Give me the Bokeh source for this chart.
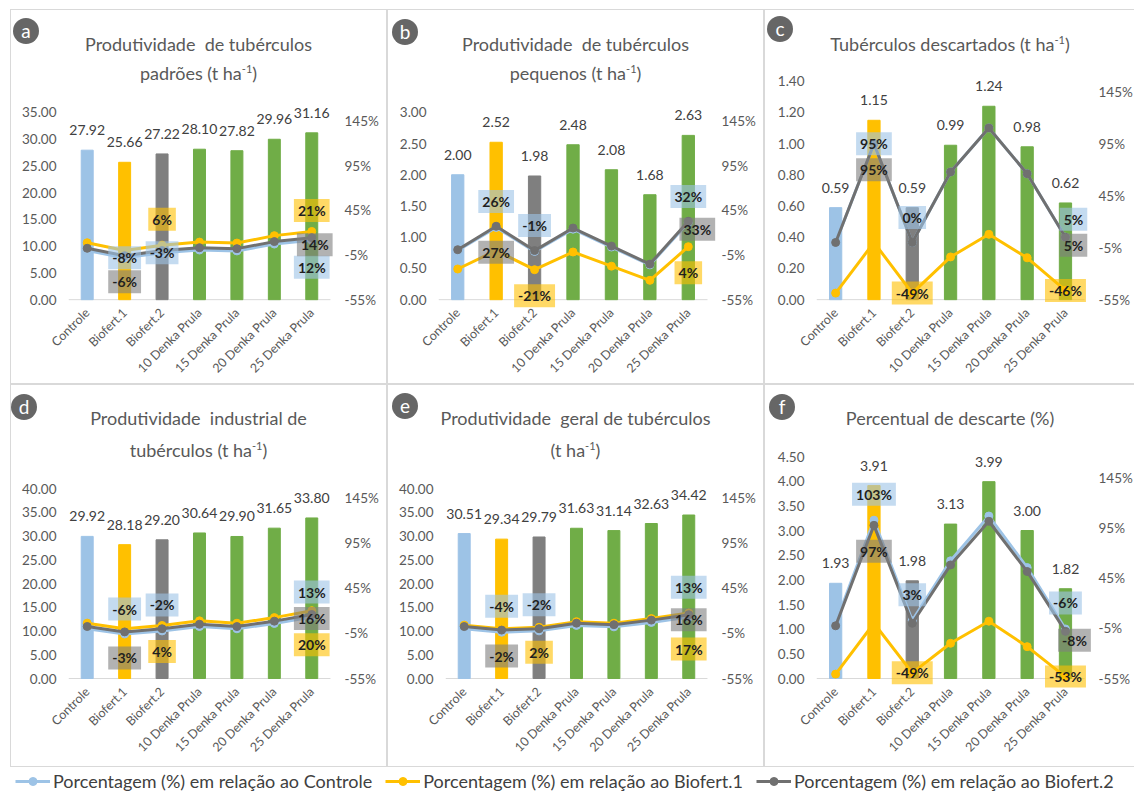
import math
from bokeh.plotting import figure
from bokeh.models import (Range1d, LinearAxis, FixedTicker, NumeralTickFormatter, Div,
                          PrintfTickFormatter, ColumnDataSource, Label, LabelSet, Legend, LegendItem)
from bokeh.layouts import column, row
from bokeh.embed import file_html
from bokeh.resources import INLINE
from bokeh.core.properties import value

# ---------------- data ----------------
CATEGORIES = ["Controle", "Biofert.1", "Biofert.2", "10 Denka Prula",
              "15 Denka Prula", "20 Denka Prula", "25 Denka Prula"]
BAR_COLORS = ["#9DC3E6", "#FFC000", "#7F7F7F", "#70AD47", "#70AD47", "#70AD47", "#70AD47"]
SERIES_NAMES = ["Porcentagem (%) em relação ao Controle",
                "Porcentagem (%) em relação ao Biofert.1",
                "Porcentagem (%) em relação ao Biofert.2"]
SERIES_COLORS = ["#9DC3E6", "#FFC000", "#707070"]
PCT_TICKS = [-55, -5, 45, 95, 145]

A_VALUES = [27.92, 25.66, 27.22, 28.10, 27.82, 29.96, 31.16]
A_PCT_CONTROLE = [0.0, -8.10, -2.51, 0.64, -0.36, 7.31, 11.60]
A_PCT_BIOFERT1 = [8.81, 0.0, 6.08, 9.51, 8.42, 16.76, 21.43]
A_PCT_BIOFERT2 = [2.57, -5.73, 0.0, 3.23, 2.20, 10.07, 14.48]
A_TICKS = [0, 5, 10, 15, 20, 25, 30, 35]

B_VALUES = [2.00, 2.52, 1.98, 2.48, 2.08, 1.68, 2.63]
B_PCT_CONTROLE = [0.0, 26.0, -1.0, 24.0, 4.0, -16.0, 31.5]
B_PCT_BIOFERT1 = [-20.63, 0.0, -21.43, -1.59, -17.46, -33.33, 4.37]
B_PCT_BIOFERT2 = [1.01, 27.27, 0.0, 25.25, 5.05, -15.15, 32.83]
B_TICKS = [0, 0.5, 1.0, 1.5, 2.0, 2.5, 3.0]

C_VALUES = [0.59, 1.15, 0.59, 0.99, 1.24, 0.98, 0.62]
C_PCT_CONTROLE = [0.0, 94.92, 0.0, 67.80, 110.17, 66.10, 5.08]
C_PCT_BIOFERT1 = [-48.70, 0.0, -48.70, -13.91, 7.83, -14.78, -46.09]
C_PCT_BIOFERT2 = [0.0, 94.92, 0.0, 67.80, 110.17, 66.10, 5.08]
C_TICKS = [0, 0.2, 0.4, 0.6, 0.8, 1.0, 1.2, 1.4]

D_VALUES = [29.92, 28.18, 29.20, 30.64, 29.90, 31.65, 33.80]
D_PCT_CONTROLE = [0.0, -5.82, -2.41, 2.41, -0.07, 5.78, 12.97]
D_PCT_BIOFERT1 = [6.17, 0.0, 3.62, 8.73, 6.10, 12.31, 19.94]
D_PCT_BIOFERT2 = [2.47, -3.49, 0.0, 4.93, 2.40, 8.39, 15.75]
D_TICKS = [0, 5, 10, 15, 20, 25, 30, 35, 40]

E_VALUES = [30.51, 29.34, 29.79, 31.63, 31.14, 32.63, 34.42]
E_PCT_CONTROLE = [0.0, -3.83, -2.36, 3.67, 2.06, 6.95, 12.82]
E_PCT_BIOFERT1 = [3.99, 0.0, 1.53, 7.81, 6.13, 11.21, 17.31]
E_PCT_BIOFERT2 = [2.42, -1.51, 0.0, 6.18, 4.53, 9.53, 15.54]
E_TICKS = [0, 5, 10, 15, 20, 25, 30, 35, 40]

F_VALUES = [1.93, 3.91, 1.98, 3.13, 3.99, 3.00, 1.82]
F_PCT_CONTROLE = [0.0, 102.59, 2.59, 62.18, 106.74, 55.44, -5.70]
F_PCT_BIOFERT1 = [-50.64, 0.0, -49.36, -19.95, 2.05, -23.27, -53.45]
F_PCT_BIOFERT2 = [-2.53, 97.47, 0.0, 58.08, 101.52, 51.52, -8.08]
F_TICKS = [0, 0.5, 1.0, 1.5, 2.0, 2.5, 3.0, 3.5, 4.0, 4.5]

# ---------------- layout / style ----------------
FONT = "Lato"
BOX_COLORS = ["#9DC3E6", "#FFC000", "#7F7F7F"]
SUP = "t ha<sup style='font-size:11px;line-height:0'>-1</sup>"

# which points carry a % label: (series index, category index, dx px, dy px)
LABELS_A = [(0, 1, 0, 0), (0, 2, 0, 0), (0, 6, 0, -27), (1, 2, 0, 26), (1, 6, 0, 21), (2, 1, 0, -26), (2, 6, 3, -7)]
LABELS_B = [(0, 1, 0, 26), (0, 2, 0, 26), (0, 6, 0, 26), (1, 2, 0, -26), (1, 6, 0, -26), (2, 1, 0, -26), (2, 6, 9, -8)]
LABELS_C = [(0, 1, 0, 0), (0, 2, 0, 25), (0, 6, 8, 18), (1, 2, 0, 0), (1, 6, 0, 0), (2, 1, 0, -26), (2, 6, 8, -8)]
LABELS_D = [(0, 1, 0, 25), (0, 2, 0, 26), (0, 6, 0, 25), (1, 2, 0, -26), (1, 6, 0, -34), (2, 1, 0, -26), (2, 6, 0, -4)]
LABELS_E = [(0, 1, 0, 26), (0, 2, 0, 26), (0, 6, 0, 30), (1, 2, 0, -25), (1, 6, 0, -36), (2, 1, 0, -26), (2, 6, 0, -5)]
LABELS_F = [(0, 1, 0, 26), (0, 2, 0, 26), (0, 6, 0, 26), (1, 2, 0, 0), (1, 6, 0, 0), (2, 1, 0, -26), (2, 6, 9, -9)]

# geometry (pixels inside each panel): first/last bar centre x, top tick y, zero y
PANELS = [
    dict(letter="a", titles=["Produtividade&nbsp; de tubérculos", f"padrões ({SUP})"],
         values=A_VALUES, pcts=[A_PCT_CONTROLE, A_PCT_BIOFERT1, A_PCT_BIOFERT2], ticks=A_TICKS,
         pmax=155, labels=LABELS_A, w=375, h=373, xf=76, xl=300, y1=102, y0=293,
         title_y=[34, 63], badge=(15, 21)),
    dict(letter="b", titles=["Produtividade&nbsp; de tubérculos", f"pequenos ({SUP})"],
         values=B_VALUES, pcts=[B_PCT_CONTROLE, B_PCT_BIOFERT1, B_PCT_BIOFERT2], ticks=B_TICKS,
         pmax=155, labels=LABELS_B, w=375, h=373, xf=69, xl=300, y1=102, y0=293,
         title_y=[34, 63], badge=(17, 22)),
    dict(letter="c", titles=[f"Tubérculos descartados ({SUP})"],
         values=C_VALUES, pcts=[C_PCT_CONTROLE, C_PCT_BIOFERT1, C_PCT_BIOFERT2], ticks=C_TICKS,
         pmax=155, labels=LABELS_C, w=370, h=373, xf=70, xl=302, y1=71, y0=293,
         title_y=[34], badge=(15, 19)),
    dict(letter="d", titles=["Produtividade&nbsp; industrial de", f"tubérculos ({SUP})"],
         values=D_VALUES, pcts=[D_PCT_CONTROLE, D_PCT_BIOFERT1, D_PCT_BIOFERT2], ticks=D_TICKS,
         pmax=155, labels=LABELS_D, w=375, h=381, xf=76, xl=300, y1=103, y0=293,
         title_y=[33, 65], badge=(13, 22)),
    dict(letter="e", titles=["Produtividade&nbsp; geral de tubérculos", f"({SUP})"],
         values=E_VALUES, pcts=[E_PCT_CONTROLE, E_PCT_BIOFERT1, E_PCT_BIOFERT2], ticks=E_TICKS,
         pmax=155, labels=LABELS_E, w=375, h=381, xf=76, xl=300, y1=103, y0=293,
         title_y=[33, 65], badge=(17, 21)),
    dict(letter="f", titles=["Percentual de descarte (%)"],
         values=F_VALUES, pcts=[F_PCT_CONTROLE, F_PCT_BIOFERT1, F_PCT_BIOFERT2], ticks=F_TICKS,
         pmax=166, labels=LABELS_F, w=370, h=381, xf=70, xl=302, y1=71, y0=293,
         title_y=[33], badge=(17, 22)),
]

PAD_TOP, PAD_BOTTOM, PAD_RIGHT = 12, 9, 13


def make_panel(cfg):
    w, h = cfg["w"], cfg["h"]
    n = len(CATEGORIES)
    xs = list(range(1, n + 1))
    step = (cfg["xl"] - cfg["xf"]) / (n - 1)
    frame_left = cfg["xf"] - step / 2
    frame_right = cfg["xl"] + step / 2 + PAD_RIGHT
    frame_top = cfg["y1"] - PAD_TOP
    frame_bottom = cfg["y0"] + PAD_BOTTOM
    ticks = cfg["ticks"]
    ymax = ticks[-1]
    per_px = ymax / (cfg["y0"] - cfg["y1"])
    pct_per_px = (cfg["pmax"] + 55) / (cfg["y0"] - cfg["y1"])

    div_h = int(round(frame_top))
    fig_h = h - div_h

    # title + badge block
    bx, by = cfg["badge"]
    parts = [f"<div style='position:relative;width:{w}px;height:{div_h}px;font-family:Lato;"
             f"color:#595959;overflow:visible;'>"]
    for ty, t in zip(cfg["title_y"], cfg["titles"]):
        parts.append(f"<div style='position:absolute;left:0;width:{w}px;top:{ty - 13}px;height:26px;"
                     f"line-height:26px;text-align:center;font-size:18px;white-space:nowrap;'>{t}</div>")
    parts.append(f"<div style='position:absolute;left:{bx - 13}px;top:{by - 13}px;width:26px;height:26px;"
                 f"border-radius:13px;background:#666666;color:#ffffff;font-size:19px;line-height:25px;"
                 f"text-align:center;'>{cfg['letter']}</div>")
    parts.append("</div>")
    div = Div(text="".join(parts), width=w, height=div_h, margin=(0, 0, 0, 0))

    p = figure(x_range=Range1d(xs[0] - 0.5, xs[-1] + 0.5 + PAD_RIGHT / step),
               y_range=Range1d(-PAD_BOTTOM * per_px, ymax + PAD_TOP * per_px),
               width=w, height=fig_h, output_backend="svg", toolbar_location=None,
               min_border_left=int(round(frame_left)), min_border_right=int(round(w - frame_right)),
               min_border_top=0, min_border_bottom=int(round(h - frame_bottom)), margin=(0, 0, 0, 0))
    p.outline_line_color = None
    p.xgrid.visible = False
    p.ygrid.visible = False

    # left axis
    p.yaxis.ticker = FixedTicker(ticks=ticks)
    p.yaxis.formatter = NumeralTickFormatter(format="0.00")
    p.yaxis.axis_line_color = None
    p.yaxis.major_tick_line_color = None
    p.yaxis.minor_tick_line_color = None
    p.yaxis.major_tick_out = 0
    p.yaxis.major_label_standoff = 12
    p.yaxis.major_label_text_font = FONT
    p.yaxis.major_label_text_font_size = "13.5px"
    p.yaxis.major_label_text_color = "#595959"

    # bottom axis (category names)
    p.xaxis.ticker = FixedTicker(ticks=xs)
    p.xaxis.major_label_overrides = {x: c for x, c in zip(xs, CATEGORIES)}
    p.xaxis.major_label_orientation = math.pi / 4
    p.xaxis.axis_line_color = None
    p.xaxis.major_tick_line_color = None
    p.xaxis.minor_tick_line_color = None
    p.xaxis.major_tick_out = 0
    p.xaxis.major_label_standoff = 2
    p.xaxis.major_label_text_font = FONT
    p.xaxis.major_label_text_font_size = "12.5px"
    p.xaxis.major_label_text_color = "#595959"

    # right axis (percent)
    p.extra_y_ranges = {"pct": Range1d(-55 - PAD_BOTTOM * pct_per_px, cfg["pmax"] + PAD_TOP * pct_per_px)}
    ax = LinearAxis(y_range_name="pct", ticker=FixedTicker(ticks=PCT_TICKS),
                    formatter=PrintfTickFormatter(format="%d%%"))
    ax.axis_line_color = None
    ax.major_tick_line_color = None
    ax.minor_tick_line_color = None
    ax.major_tick_out = 0
    ax.major_label_standoff = 1
    ax.major_label_text_font = FONT
    ax.major_label_text_font_size = "13.5px"
    ax.major_label_text_color = "#595959"
    p.add_layout(ax, "right")

    # category axis line at zero
    p.segment(x0=[xs[0] - 0.5], y0=[0], x1=[xs[-1] + 0.5], y1=[0], line_color="#d9d9d9", line_width=1)

    # bars
    src = ColumnDataSource(dict(x=xs, val=cfg["values"], color=BAR_COLORS,
                                txt=[f"{v:.2f}" for v in cfg["values"]]))
    p.vbar(x="x", top="val", width=0.32, color="color", source=src)
    p.add_layout(LabelSet(x="x", y="val", text="txt", source=src, y_offset=20,
                          text_align="center", text_baseline="middle",
                          text_font=value(FONT), text_font_size="14px", text_color="#404040"))

    # percentage lines
    for pct, col in zip(cfg["pcts"], SERIES_COLORS):
        p.line(x=xs, y=pct, y_range_name="pct", line_color=col, line_width=3)
        p.scatter(x=xs, y=pct, y_range_name="pct", size=8, fill_color=col, line_color=col)

    # percent labels
    for si, ci, dx, dy in cfg["labels"]:
        v = cfg["pcts"][si][ci]
        lab = Label(x=xs[ci], y=v, y_range_name="pct", x_offset=dx, y_offset=dy,
                    text=f"{round(v):d}%", text_align="center", text_baseline="middle",
                    text_font=FONT, text_font_size="14px", text_font_style="bold",
                    text_color="#1f1f1f", background_fill_color=BOX_COLORS[si],
                    background_fill_alpha=0.6, padding=(4, 3))
        p.add_layout(lab)

    return column(div, p, spacing=0, styles={"border": "1px solid #d9d9d9"})


panels = [make_panel(c) for c in PANELS]

# legend strip
lf = figure(width=1120, height=28, output_backend="svg", toolbar_location=None,
            x_axis_type=None, y_axis_type=None, x_range=Range1d(0, 1), y_range=Range1d(0, 1),
            min_border=0)
lf.outline_line_color = None
lf.xgrid.visible = False
lf.ygrid.visible = False
items = []
for name, col in zip(SERIES_NAMES, SERIES_COLORS):
    s = ColumnDataSource(dict(x=[-5.0], y=[-5.0]))
    r1 = lf.line("x", "y", source=s, line_color=col, line_width=3)
    r2 = lf.scatter("x", "y", source=s, size=8, fill_color=col, line_color=col)
    items.append(LegendItem(label=name, renderers=[r1, r2]))
leg = Legend(items=items, orientation="horizontal", location="left",
             border_line_color=None, background_fill_alpha=0, label_text_font=FONT,
             label_text_font_size="18px", label_text_color="#404040", glyph_width=35,
             label_standoff=3, spacing=13, padding=0, margin=5)
lf.add_layout(leg, "center")

layout = column(row(*panels[:3], spacing=0), row(*panels[3:], spacing=0), lf,
                spacing=0, margin=(9, 0, 0, 10))
open("out.html", "w").write(file_html(layout, INLINE))
